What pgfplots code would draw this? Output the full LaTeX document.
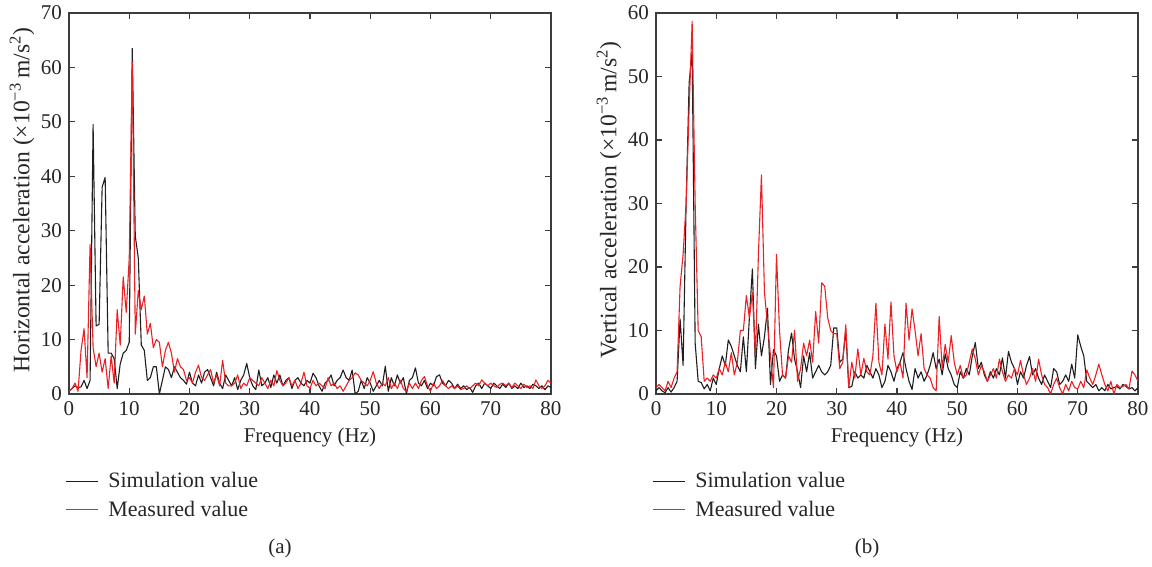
\documentclass[border=0pt]{standalone}
\usepackage{fontspec}
\setmainfont{Liberation Serif}
\usepackage{pgfplots}
\usepackage{pgfplotstable}
\pgfplotsset{compat=1.18}
\definecolor{simc}{RGB}{30,30,30}
\definecolor{meac}{RGB}{236,32,36}
\definecolor{axc}{RGB}{60,60,60}

\pgfplotstableread{
x sim mea
0 0.5 0.5
0.5 1.0 1.0
1 1.5 2.0
1.5 1.2 0.5
2 1.3 8.0
2.5 2.5 12.0
3 1.0 3.0
3.5 2.5 27.5
4 49.5 8.5
4.5 12.5 5.0
5 12.8 7.5
5.5 38.0 4.0
6 39.8 6.5
6.5 7.5 1.0
7 7.5 7.0
7.5 6.5 2.0
8 1.0 15.5
8.5 5.5 9.0
9 7.5 21.5
9.5 8.0 15.0
10 9.5 25.0
10.5 63.5 61.0
11 29.0 11.0
11.5 25.0 19.0
12 9.0 15.5
12.5 8.0 18.0
13 2.5 11.0
13.5 3.0 13.0
14 5.0 8.5
14.5 5.0 10.0
15 0.0 9.5
15.5 2.5 5.0
16 5.0 8.0
16.5 4.5 9.5
17 3.0 7.5
17.5 5.0 4.0
18 4.0 6.5
18.5 3.0 5.0
19 2.5 4.5
19.5 1.8 2.5
20 4.0 3.0
20.5 2.0 2.0
21 1.5 4.0
21.5 3.5 5.3
22 2.0 3.0
22.5 4.0 2.5
23 4.5 3.5
23.5 3.0 4.5
24 1.5 2.0
24.5 4.0 3.5
25 2.0 1.5
25.5 1.0 6.2
26 3.5 2.0
26.5 2.5 1.5
27 1.5 1.5
27.5 3.0 2.0
28 0.8 3.5
28.5 2.5 1.0
29 3.5 2.0
29.5 5.6 1.5
30 3.0 3.0
30.5 1.5 2.5
31 0.8 2.0
31.5 4.4 1.5
32 1.5 3.0
32.5 2.0 2.0
33 3.0 1.0
33.5 1.2 2.5
34 3.5 1.5
34.5 2.0 4.3
35 3.5 2.5
35.5 1.5 1.5
36 2.5 2.0
36.5 3.0 3.0
37 1.0 1.5
37.5 2.5 2.5
38 3.0 1.0
38.5 2.0 2.0
39 1.5 4.0
39.5 2.5 1.5
40 2.0 1.0
40.5 3.8 2.5
41 3.0 1.5
41.5 1.5 2.0
42 0.5 1.5
42.5 2.0 1.0
43 2.5 3.0
43.5 3.5 1.5
44 1.5 2.0
44.5 2.5 1.0
45 3.0 1.5
45.5 4.4 0.5
46 3.0 1.5
46.5 2.5 2.5
47 4.4 3.0
47.5 0.0 3.9
48 0.5 3.5
48.5 2.5 2.5
49 1.0 2.0
49.5 3.0 1.5
50 2.0 2.5
50.5 0.5 4.1
51 1.5 2.0
51.5 2.5 1.0
52 1.5 2.0
52.5 5.1 1.5
53 0.5 3.0
53.5 3.0 1.0
54 1.5 2.0
54.5 3.5 1.0
55 2.0 2.5
55.5 3.0 1.0
56 0.0 0.5
56.5 2.5 2.0
57 3.0 1.0
57.5 4.8 2.0
58 2.0 1.0
58.5 1.5 2.5
59 2.5 3.2
59.5 1.0 1.5
60 2.0 0.5
60.5 1.5 2.0
61 3.2 1.0
61.5 3.5 1.5
62 2.0 2.5
62.5 1.5 1.5
63 2.5 1.0
63.5 2.0 1.5
64 1.0 1.0
64.5 1.8 1.5
65 1.0 0.8
65.5 1.5 1.0
66 0.8 1.5
66.5 1.2 1.0
67 0.3 1.5
67.5 1.5 2.0
68 2.0 1.5
68.5 1.0 2.6
69 2.0 2.0
69.5 1.5 1.5
70 1.0 2.0
70.5 2.0 1.5
71 1.5 1.2
71.5 1.0 1.8
72 1.8 2.0
72.5 1.2 1.5
73 2.0 2.0
73.5 1.0 1.2
74 1.5 2.0
74.5 1.0 1.5
75 2.0 1.0
75.5 1.2 1.8
76 1.5 1.2
76.5 1.0 1.5
77 1.8 1.0
77.5 1.5 2.6
78 1.0 1.5
78.5 1.5 1.0
79 0.8 1.5
79.5 1.5 2.5
80 1.2 2.0
}\horiz

\pgfplotstableread{
x sim mea
0 0.5 1.0
0.5 1.0 1.5
1 0.5 1.0
1.5 0.2 0.5
2 1.0 2.0
2.5 0.3 1.0
3 1.0 2.5
3.5 2.0 3.5
4 11.8 17.0
4.5 4.5 22.0
5 30.0 30.0
5.5 49.0 45.0
6 54.0 58.7
6.5 8.0 30.0
7 2.0 10.0
7.5 1.8 9.0
8 0.8 2.0
8.5 1.5 2.5
9 0.5 2.0
9.5 2.5 3.0
10 1.5 2.5
10.5 4.0 4.0
11 6.0 3.0
11.5 4.5 5.0
12 8.5 3.5
12.5 7.5 6.5
13 6.0 3.0
13.5 4.5 5.0
14 3.5 10.0
14.5 9.0 10.0
15 3.5 15.5
15.5 12.0 12.0
16 19.7 16.0
16.5 4.0 6.0
17 11.0 22.0
17.5 6.0 34.5
18 9.0 16.0
18.5 13.5 11.0
19 1.5 6.0
19.5 7.0 1.0
20 6.0 22.0
20.5 2.0 10.0
21 3.0 3.0
21.5 2.5 2.5
22 7.0 6.0
22.5 9.6 5.0
23 5.5 10.0
23.5 3.5 2.0
24 1.0 4.0
24.5 6.0 8.0
25 3.5 6.0
25.5 6.5 8.5
26 2.5 5.0
26.5 3.5 13.0
27 4.5 8.0
27.5 3.5 17.5
28 3.0 17.0
28.5 3.5 12.0
29 4.5 10.0
29.5 10.4 9.5
30 10.4 9.5
30.5 5.0 4.0
31 5.5 5.0
31.5 10.0 10.9
32 1.0 1.0
32.5 1.2 5.0
33 3.5 2.5
33.5 2.5 7.1
34 3.0 3.0
34.5 2.5 5.6
35 4.5 3.5
35.5 3.5 3.0
36 2.5 6.0
36.5 4.0 14.3
37 3.0 5.0
37.5 1.0 3.0
38 2.0 11.0
38.5 4.5 5.5
39 3.5 14.5
39.5 2.0 6.0
40 4.0 3.5
40.5 5.0 5.0
41 6.5 2.5
41.5 4.0 14.3
42 2.0 8.5
42.5 0.7 13.4
43 4.0 10.0
43.5 2.5 6.0
44 3.5 9.5
44.5 2.0 4.0
45 3.0 3.0
45.5 4.5 2.5
46 6.5 1.0
46.5 4.0 0.5
47 5.5 12.2
47.5 3.0 4.0
48 6.3 7.8
48.5 4.0 5.0
49 3.0 9.2
49.5 1.5 5.0
50 1.0 3.0
50.5 3.5 4.5
51 2.5 2.5
51.5 4.0 3.0
52 3.0 5.0
52.5 6.0 7.1
53 8.1 5.5
53.5 4.0 3.0
54 5.0 4.5
54.5 3.0 3.5
55 2.0 2.0
55.5 3.5 3.0
56 2.5 4.0
56.5 4.0 2.5
57 3.0 5.5
57.5 5.7 3.5
58 2.5 2.0
58.5 6.7 3.0
59 5.0 2.5
59.5 4.0 4.0
60 1.5 3.0
60.5 3.5 5.3
61 2.5 3.0
61.5 4.5 1.5
62 5.9 2.5
62.5 3.0 4.0
63 4.0 2.0
63.5 2.5 5.5
64 1.5 3.0
64.5 3.0 1.5
65 2.0 1.0
65.5 1.0 0.0
66 4.0 1.5
66.5 3.5 2.5
67 1.5 1.0
67.5 2.0 0.0
68 3.0 1.5
68.5 2.0 0.5
69 4.7 2.0
69.5 2.5 1.0
70 9.3 0.8
70.5 7.5 2.0
71 6.0 1.0
71.5 2.0 3.8
72 1.5 2.5
72.5 1.0 1.5
73 1.5 3.0
73.5 0.5 4.7
74 1.0 3.0
74.5 0.5 1.5
75 1.5 0.5
75.5 0.8 2.0
76 1.0 0.0
76.5 1.2 1.5
77 0.8 1.0
77.5 1.5 1.2
78 1.2 1.5
78.5 0.8 0.8
79 1.0 3.6
79.5 0.5 3.0
80 1.0 2.0
}\vert

\pgfplotsset{
  myax/.style={
    scale only axis, width=241pt, height=190.5pt,
    xmin=0, xmax=80, ymin=0,
    xtick={0,10,...,80},
    tick align=inside,
    major tick length=3pt,
    axis line style={draw=axc, line width=0.7pt},
    every tick/.style={axc, line width=0.6pt},
    tick label style={font=\fontsize{10.5}{12.5}\selectfont, text=black!85},
    /pgf/number format/assume math mode=true,
    label style={font=\fontsize{10.5}{12.5}\selectfont, text=black!85},
    xlabel={Frequency (Hz)},
    xlabel style={at={(axis description cs:0.5,-0.113)}, anchor=center},
    ylabel style={at={(axis description cs:-0.0975,0.509)}, anchor=center,
      font=\fontsize{11.8}{13.5}\selectfont},
    legend style={at={(axis description cs:-0.021,-0.184)}, anchor=north west,
      draw=none, fill=none, font=\fontsize{11}{13}\selectfont, text=black!85,
      row sep=1pt,
      /tikz/every odd column/.append style={column sep=3pt}},
    legend cell align=left,
    legend image code/.code={\draw[##1] (0pt,0pt) -- (16pt,0pt);},
  },
  simst/.style={color=simc, line width=0.55pt, line join=round, mark=none},
  meast/.style={color=meac, line width=0.55pt, line join=round, mark=none},
}

\begin{document}
\begin{tikzpicture}
\path[use as bounding box] (0,0) rectangle (576pt,283.5pt);
\begin{axis}[myax, at={(34.5pt,86.5pt)}, anchor=south west,
  ymax=70, ytick={0,10,...,70},
  ylabel={Horizontal acceleration (×10\textsuperscript{−3}\,m/s\textsuperscript{2})}]
\addplot[simst] table[x=x, y=sim] {\horiz};
\addlegendentry{Simulation value}
\addplot[meast] table[x=x, y=mea] {\horiz};
\addlegendentry{Measured value}
\end{axis}
\begin{axis}[myax, at={(328pt,86.5pt)}, anchor=south west,
  ymax=60, ytick={0,10,...,60},
  ylabel={Vertical acceleration (×10\textsuperscript{−3}\,m/s\textsuperscript{2})}]
\addplot[simst] table[x=x, y=sim] {\vert};
\addlegendentry{Simulation value}
\addplot[meast] table[x=x, y=mea] {\vert};
\addlegendentry{Measured value}
\end{axis}
\node[font=\fontsize{10.5}{12.5}\selectfont, text=black!85] at (140pt,9.5pt) {(a)};
\node[font=\fontsize{10.5}{12.5}\selectfont, text=black!85] at (433.5pt,9.5pt) {(b)};
\end{tikzpicture}
\end{document}
